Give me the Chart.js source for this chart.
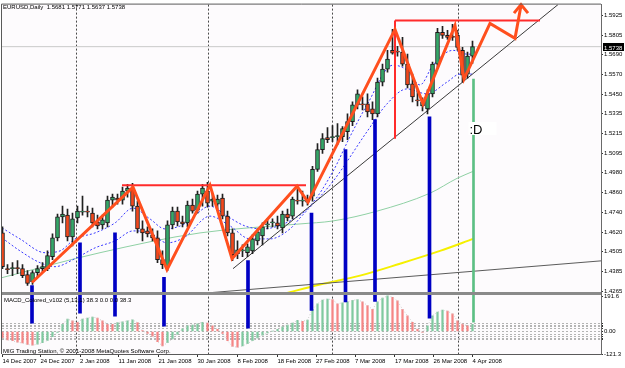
<!DOCTYPE html>
<html>
<head>
<meta charset="utf-8">
<title>EURUSD Daily</title>
<script src="https://cdn.jsdelivr.net/npm/chart.js@4.4.1/dist/chart.umd.min.js"></script>
<style>
html, body { margin: 0; padding: 0; background: #ffffff; overflow: hidden; }
canvas { display: block; }
</style>
</head>
<body>
<canvas id="chart" width="625" height="368"></canvas>
<script>
// texts
const symbolTitle = 'EURUSD,Daily  1.5681 1.5771 1.5637 1.5738';
const macdTitle = 'MACD_Colored_v102 (5,13,1) 38.3 0.0 0.0 38.3';
const footerText = 'MIG Trading Station, \u00a9 2001-2008 MetaQuotes Software Corp.';
const noteText = ':D';

// daily candles, 14 Dec 2007 .. 4 Apr 2008
const opens = [1.4618, 1.4403, 1.4403, 1.4409, 1.4403, 1.4367, 1.4325, 1.4379, 1.4403, 1.4403,
  1.4475, 1.4588, 1.4714, 1.4725, 1.4594, 1.4708, 1.4743, 1.4749, 1.4737, 1.4684,
  1.4666, 1.4678, 1.4815, 1.4827, 1.4815, 1.4869, 1.4881, 1.4779, 1.4642, 1.4630,
  1.4606, 1.4588, 1.4457, 1.4415, 1.4666, 1.4749, 1.4684, 1.4678, 1.4785, 1.4755,
  1.4851, 1.4869, 1.4809, 1.4791, 1.4827, 1.4719, 1.4618, 1.4493, 1.4510, 1.4499,
  1.4510, 1.4570, 1.4600, 1.4666, 1.4678, 1.4678, 1.4648, 1.4731, 1.4719, 1.4815,
  1.4809, 1.4815, 1.4839, 1.5000, 1.5119, 1.5191, 1.5191, 1.5197, 1.5197, 1.5227,
  1.5287, 1.5388, 1.5394, 1.5394, 1.5364, 1.5334, 1.5525, 1.5603, 1.5716, 1.5710,
  1.5705, 1.5633, 1.5514, 1.5418, 1.5382, 1.5364, 1.5454, 1.5633, 1.5824, 1.5806,
  1.5800, 1.5806, 1.5716, 1.5573, 1.5681];
const highs = [1.4654, 1.4427, 1.4439, 1.4451, 1.4427, 1.4391, 1.4391, 1.4421, 1.4439, 1.4510,
  1.4612, 1.4731, 1.4779, 1.4761, 1.4737, 1.4779, 1.4839, 1.4779, 1.4767, 1.4725,
  1.4725, 1.4839, 1.4851, 1.4851, 1.4893, 1.4910, 1.4916, 1.4809, 1.4690, 1.4654,
  1.4642, 1.4630, 1.4510, 1.4690, 1.4773, 1.4773, 1.4719, 1.4809, 1.4821, 1.4869,
  1.4910, 1.4922, 1.4851, 1.4845, 1.4851, 1.4749, 1.4642, 1.4570, 1.4546, 1.4552,
  1.4606, 1.4642, 1.4678, 1.4702, 1.4702, 1.4719, 1.4749, 1.4761, 1.4833, 1.4893,
  1.4869, 1.4845, 1.5018, 1.5155, 1.5215, 1.5251, 1.5263, 1.5275, 1.5257, 1.5334,
  1.5406, 1.5478, 1.5436, 1.5454, 1.5406, 1.5549, 1.5633, 1.5716, 1.5842, 1.5740,
  1.5794, 1.5693, 1.5573, 1.5478, 1.5430, 1.5478, 1.5645, 1.5848, 1.5860, 1.5836,
  1.5872, 1.5836, 1.5734, 1.5705, 1.5771];
const lows = [1.4403, 1.4373, 1.4361, 1.4373, 1.4349, 1.4302, 1.4308, 1.4349, 1.4379, 1.4391,
  1.4457, 1.4570, 1.4678, 1.4570, 1.4540, 1.4678, 1.4725, 1.4714, 1.4654, 1.4642,
  1.4642, 1.4654, 1.4773, 1.4791, 1.4791, 1.4833, 1.4749, 1.4618, 1.4570, 1.4594,
  1.4570, 1.4439, 1.4403, 1.4391, 1.4642, 1.4660, 1.4654, 1.4654, 1.4737, 1.4737,
  1.4779, 1.4773, 1.4779, 1.4761, 1.4702, 1.4600, 1.4451, 1.4463, 1.4475, 1.4475,
  1.4493, 1.4546, 1.4546, 1.4642, 1.4654, 1.4642, 1.4618, 1.4690, 1.4702, 1.4791,
  1.4779, 1.4785, 1.4809, 1.4988, 1.5096, 1.5161, 1.5167, 1.5149, 1.5167, 1.5179,
  1.5263, 1.5364, 1.5358, 1.5316, 1.5299, 1.5316, 1.5502, 1.5585, 1.5693, 1.5681,
  1.5621, 1.5490, 1.5406, 1.5382, 1.5352, 1.5334, 1.5436, 1.5615, 1.5788, 1.5782,
  1.5776, 1.5716, 1.5525, 1.5549, 1.5637];
const closes = [1.4415, 1.4397, 1.4409, 1.4403, 1.4361, 1.4314, 1.4379, 1.4403, 1.4415, 1.4481,
  1.4588, 1.4714, 1.4731, 1.4594, 1.4702, 1.4749, 1.4749, 1.4743, 1.4678, 1.4660,
  1.4696, 1.4815, 1.4833, 1.4815, 1.4869, 1.4887, 1.4779, 1.4642, 1.4618, 1.4612,
  1.4588, 1.4457, 1.4427, 1.4666, 1.4749, 1.4684, 1.4672, 1.4785, 1.4749, 1.4851,
  1.4887, 1.4797, 1.4821, 1.4821, 1.4719, 1.4618, 1.4487, 1.4516, 1.4516, 1.4534,
  1.4582, 1.4624, 1.4654, 1.4672, 1.4678, 1.4660, 1.4731, 1.4708, 1.4821, 1.4809,
  1.4815, 1.4803, 1.5000, 1.5119, 1.5185, 1.5179, 1.5197, 1.5203, 1.5245, 1.5287,
  1.5388, 1.5454, 1.5388, 1.5346, 1.5334, 1.5525, 1.5603, 1.5663, 1.5699, 1.5705,
  1.5633, 1.5508, 1.5436, 1.5412, 1.5406, 1.5454, 1.5633, 1.5824, 1.5806, 1.5794,
  1.5794, 1.5734, 1.5567, 1.5681, 1.5738];

// MACD_Colored histogram (signal period 1, so the signal line is the same series)
const macdHist = [-35, -45, -50, -58, -62, -70, -74, -68, -60, -48,
  -28, -5, 39, 67, 57, 50, 67, 72, 78, 72,
  57, 39, 39, 48, 52, 57, 63, 48, 5, -10,
  -25, -55, -78, -60, -40, -15, 15, 30, 35, 42,
  50, 45, 30, 12, -10, -50, -80, -85, -78, -65,
  -50, -35, -20, -8, 2, 12, 25, 35, 45, 60,
  55, 62, 120, 150, 170, 175, 172, 150, 155, 160,
  168, 172, 160, 140, 120, 160, 180, 192, 185, 165,
  120, 85, 50, 12, -5, 30, 85, 105, 115, 110,
  95, 58, 40, 30, 38.3];

// indicator lines: [bar, price]
const maFast = [[-0.1, 1.4648], [3.5, 1.4582], [8.5, 1.4499], [11.5, 1.4510], [14.5, 1.4582], [18.5, 1.4618],
  [22.5, 1.4678], [26.1, 1.4767], [29.5, 1.4702], [32.5, 1.4642], [36.5, 1.4672], [41.5, 1.4779],
  [44.9, 1.4719], [48.5, 1.4660], [51.9, 1.4642], [57.5, 1.4690], [61.5, 1.4779], [66.1, 1.4988],
  [69.5, 1.5197], [72.9, 1.5388], [78.1, 1.5627], [80.9, 1.5597], [83.5, 1.5508], [86.1, 1.5627],
  [90.1, 1.5716], [92.9, 1.5693], [94.1, 1.5693]];
const maSlow = [[-0.1, 1.4588], [3.5, 1.4510], [7.5, 1.4439], [10.5, 1.4415], [14.5, 1.4463], [18.5, 1.4528],
  [22.5, 1.4570], [26.1, 1.4630], [29.5, 1.4618], [32.9, 1.4558], [36.5, 1.4594], [41.5, 1.4719],
  [45.5, 1.4660], [49.5, 1.4582], [53.5, 1.4582], [57.5, 1.4642], [59.5, 1.4708], [66.1, 1.4928],
  [72.9, 1.5227], [76.9, 1.5394], [80.9, 1.5484], [84.9, 1.5454], [88.9, 1.5525], [91.5, 1.5573],
  [94.1, 1.5573]];
const smaGreen = [[-0.1, 1.4349], [19.5, 1.4499], [39.5, 1.4618], [59.5, 1.4672], [66.1, 1.4690],
  [74.9, 1.4749], [85.5, 1.4857], [90.9, 1.4946], [94.1, 1.4988]];
const smaYellow = [[50, 1.4204], [56.5, 1.4254], [63.5, 1.4308], [71.5, 1.4361], [79.5, 1.4433],
  [87.5, 1.4510], [94.1, 1.4582]];

// hand drawn objects: [bar, price]
const trendLower = [[42.1, 1.4260], [120.1, 1.4451]];
const trendRising = [[46.1, 1.4403], [111.1, 1.5991]];
const resistance1 = [[23.9, 1.4905], [60.7, 1.4905]];
const resistance2 = [[78.5, 1.5896], [107.5, 1.5896]];
const redDrop = [[78.5, 1.5896], [78.5, 1.5185]];
const zigzag = [[5.9, 1.4320], [26.1, 1.4893], [32.9, 1.4397], [41.5, 1.4905], [45.9, 1.4463],
  [58.9, 1.4899], [61.1, 1.4803], [78.5, 1.5842], [84.1, 1.5394], [90.5, 1.5866], [92.3, 1.5543],
  [97.5, 1.5878], [102.5, 1.5788], [103.7, 1.5985]];
const arrowHead = [[102.3, 1.5940], [103.7, 1.5991], [105.1, 1.5940]];
// vertical markers: [bar, price top, macd bottom]
const blueMarks = [[5.9, 1.4302, 44.7], [15.5, 1.4558, 98.3], [22.5, 1.4618, 82.2], [32.3, 1.4351, 28.6],
  [49.1, 1.4451, 17.9], [61.8, 1.4737, 114.3], [68.6, 1.5119, 159.8], [74.5, 1.5299, 162.5],
  [85.4, 1.5316, 71.5]];
const greenMark = [94.2, 1.5543, 50.1];
const notePos = [93.6, 1.5225];

// axes
const dateLabels = ['14 Dec 2007', '24 Dec 2007', '2 Jan 2008', '11 Jan 2008', '21 Jan 2008', '30 Jan 2008',
  '8 Feb 2008', '18 Feb 2008', '27 Feb 2008', '7 Mar 2008', '17 Mar 2008', '26 Mar 2008', '4 Apr 2008'];
const dateTickBars = [0, 7.6, 15.5, 23.2, 31.2, 39, 47, 55, 62.7, 70.5, 78.5, 86.2, 94];
const monthStartBars = [14.7, 41.1, 65.9, 91.1];
const priceTicks = [1.5925, 1.5805, 1.5690, 1.5570, 1.5450, 1.5335, 1.5215, 1.5095, 1.4980, 1.4860,
  1.4740, 1.4620, 1.4505, 1.4385, 1.4265];
const macdTicks = [191.6, 45, 35, 25, 15, 0, -15, -25, -35, -45, -121.3];

const N = closes.length;
const lastClose = closes[N - 1];
const xMin = -0.1, xMax = 119.7;
const pt = ([x, y]) => ({ x, y });
const FONT = '"Liberation Sans", Arial, sans-serif';

const upColor = '#34a768', downColor = '#f2481c';
const histUp = '#80c9a0', histDown = '#f58585';

const lineDs = (data, color, width, order, extra) => Object.assign({
  type: 'line', data: data.map(pt), borderColor: color, borderWidth: width,
  pointRadius: 0, order: order, yAxisID: 'y', xAxisID: 'x'
}, extra || {});

const datasets = [
  // macd pane
  { type: 'bar', yAxisID: 'm', order: 10, grouped: false, barThickness: 1.6,
    data: macdHist.map((v, i) => ({ x: i, y: v })),
    backgroundColor: macdHist.map((v, i) => (i > 0 && v > macdHist[i - 1]) ? histUp : histDown) },
  { type: 'line', yAxisID: 'm', order: 9, data: macdHist.map((v, i) => ({ x: i, y: v })),
    borderColor: '#cdcdcd', borderWidth: 1, borderDash: [1, 2], pointRadius: 0 },
  // price pane
  lineDs([[xMin, lastClose], [xMax, lastClose]], '#c9c9c9', 1, 9),
  lineDs(smaGreen, '#8fd0a4', 1, 8, { cubicInterpolationMode: 'monotone' }),
  lineDs(smaYellow, '#f5f000', 2, 8, { cubicInterpolationMode: 'monotone' }),
  lineDs(maFast, '#3a3aff', 1, 7, { borderDash: [2, 2], cubicInterpolationMode: 'monotone' }),
  lineDs(maSlow, '#3a3aff', 1, 7, { borderDash: [2, 2], cubicInterpolationMode: 'monotone' }),
  lineDs(trendLower, '#5b5b5b', 1, 6),
  lineDs(trendRising, '#3a3a3a', 1, 6),
  { type: 'bar', yAxisID: 'y', order: 5, grouped: false, barThickness: 1,
    data: closes.map((c, i) => ({ x: i, y: [lows[i], highs[i]] })), backgroundColor: '#202020' },
  { type: 'bar', yAxisID: 'y', order: 4, grouped: false, barThickness: 4, minBarLength: 1,
    data: closes.map((c, i) => ({ x: i, y: [opens[i], c] })),
    backgroundColor: closes.map((c, i) => c >= opens[i] ? upColor : downColor),
    borderColor: '#1a1a1a', borderWidth: 1, borderSkipped: false },
  lineDs(resistance1, '#ff2b2b', 2, 3),
  lineDs(resistance2, '#ff2b2b', 2, 3),
  lineDs(redDrop, '#ff2b2b', 2, 3),
  { type: 'bar', yAxisID: 'y', order: 2, grouped: false, barThickness: 3,
    data: blueMarks.map(([x, top]) => ({ x, y: [top, 1.40] })), backgroundColor: '#0000c4' },
  { type: 'bar', yAxisID: 'm', order: 2, grouped: false, barThickness: 3,
    data: blueMarks.map(([x, , bottom]) => ({ x, y: [bottom, 260] })), backgroundColor: '#0000c4' },
  { type: 'bar', yAxisID: 'y', order: 2, grouped: false, barThickness: 2,
    data: [{ x: greenMark[0], y: [greenMark[1], 1.40] }], backgroundColor: '#5cbf84' },
  { type: 'bar', yAxisID: 'm', order: 2, grouped: false, barThickness: 2,
    data: [{ x: greenMark[0], y: [greenMark[2], 260] }], backgroundColor: '#5cbf84' },
  lineDs(zigzag, '#ff4f1e', 3, 1, { clip: 3, borderJoinStyle: 'miter' }),
  lineDs(arrowHead, '#ff4f1e', 3, 1, { clip: 3 })
];

const decorations = {
  id: 'decorations',
  beforeDraw(chart) {
    const { ctx, chartArea: a } = chart;
    ctx.save();
    ctx.fillStyle = '#ffffff';
    ctx.fillRect(0, 0, chart.width, chart.height);
    ctx.fillStyle = '#fdfbfd';
    ctx.fillRect(a.left, a.top, a.right - a.left, a.bottom - a.top);
    ctx.restore();
  },
  afterDatasetsDraw(chart) {
    const { ctx, chartArea: a, scales } = chart;
    ctx.save();
    const sep = Math.round(scales.m.top);
    ctx.fillStyle = '#8a8a8a';
    ctx.fillRect(a.left, sep - 2, a.right - a.left, 3);
    ctx.strokeStyle = '#5a5a5a';
    ctx.lineWidth = 1;
    ctx.beginPath();
    ctx.moveTo(a.left - 0.5, a.bottom);
    ctx.lineTo(a.left - 0.5, a.top - 0.5);
    ctx.lineTo(a.right, a.top - 0.5);
    ctx.stroke();

    ctx.fillStyle = '#000';
    ctx.font = '6px ' + FONT;
    ctx.textBaseline = 'alphabetic';
    ctx.fillText(symbolTitle, 3, 9);
    ctx.fillText(macdTitle, 4, sep + 8);
    ctx.fillText(footerText, 3, a.bottom - 1);

    const nx = scales.x.getPixelForValue(notePos[0]);
    const ny = scales.y.getPixelForValue(notePos[1]);
    ctx.fillStyle = '#ffffff';
    ctx.fillRect(nx - 2, ny - 10, 28, 13);
    ctx.fillStyle = '#000';
    ctx.font = '13px ' + FONT;
    ctx.fillText(noteText, nx - 1, ny + 2);

    const py = Math.round(scales.y.getPixelForValue(lastClose));
    ctx.fillStyle = '#000';
    ctx.fillRect(a.right + 2, py - 4, 21, 8);
    ctx.fillStyle = '#fff';
    ctx.font = '6px ' + FONT;
    ctx.fillText(lastClose.toFixed(4), a.right + 3, py + 2.5);
    ctx.restore();
  }
};

new Chart(document.getElementById('chart'), {
  type: 'bar',
  data: { datasets },
  plugins: [decorations],
  options: {
    responsive: false,
    devicePixelRatio: 1,
    animation: false,
    events: [],
    layout: { padding: { left: 2, top: 2, right: 0, bottom: 0 } },
    plugins: { legend: { display: false }, tooltip: { enabled: false } },
    scales: {
      x: {
        type: 'linear', position: 'bottom', min: xMin, max: xMax, offset: false,
        afterBuildTicks: s => { s.ticks = dateTickBars.map(v => ({ value: v })); },
        afterFit: s => { s.height = 14; },
        ticks: {
          autoSkip: false, maxRotation: 0, minRotation: 0, align: 'start', padding: 1,
          color: '#000', font: { size: 6, family: FONT },
          callback: (v, i) => dateLabels[i]
        },
        grid: { offset: false, drawOnChartArea: false, drawTicks: true, tickLength: 3, color: '#333' },
        border: { display: true, color: '#5a5a5a' }
      },
      xg: {
        type: 'linear', position: 'bottom', min: xMin, max: xMax, offset: false,
        afterBuildTicks: s => { s.ticks = monthStartBars.map(v => ({ value: v })); },
        afterFit: s => { s.height = 0; },
        ticks: { display: false },
        grid: { offset: false, drawOnChartArea: true, drawTicks: false, color: '#4a4a4a', lineWidth: 1 },
        border: { display: false, dash: [2, 2] }
      },
      y: {
        type: 'linear', position: 'right', stack: 'panes', stackWeight: 292,
        min: 1.4248, max: 1.5991,
        afterBuildTicks: s => { s.ticks = priceTicks.map(v => ({ value: v })); },
        afterFit: s => { s.width = 24; },
        ticks: { autoSkip: false, padding: 1, color: '#000', font: { size: 6, family: FONT }, callback: v => v.toFixed(4) },
        grid: { drawOnChartArea: false, drawTicks: true, tickLength: 2, color: '#333' },
        border: { display: true, color: '#6a6a6a' }
      },
      m: {
        type: 'linear', position: 'right', stack: 'panes', stackWeight: 60,
        min: -121.3, max: 200,
        afterBuildTicks: s => { s.ticks = macdTicks.map(v => ({ value: v })); },
        afterFit: s => { s.width = 24; },
        ticks: {
          autoSkip: false, padding: 1, color: '#000', font: { size: 6, family: FONT },
          callback: v => v === 191.6 ? '191.6' : v === -121.3 ? '-121.3' : v === 0 ? '0.00' : ''
        },
        grid: {
          drawOnChartArea: true, drawTicks: true, tickLength: 2, tickColor: '#333', tickBorderDash: [],
          color: c => (c.tick && Math.abs(c.tick.value) < 100) ? '#b4b4b4' : 'rgba(0,0,0,0)'
        },
        border: { display: true, color: '#6a6a6a', dash: [2, 2] }
      }
    }
  }
});
</script>
</body>
</html>
